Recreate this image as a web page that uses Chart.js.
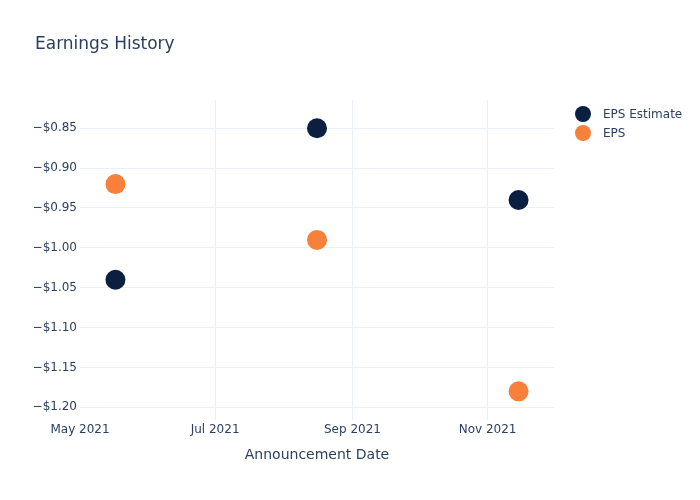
<!DOCTYPE html>
<html>
<head>
<meta charset="utf-8">
<script src="https://cdn.jsdelivr.net/npm/chart.js@4"></script>
<style>
  html, body { margin: 0; padding: 0; background: #fff; }
  #wrap { position: relative; width: 700px; height: 500px; }
</style>
</head>
<body>
<div id="wrap"><canvas id="earningsChart" width="700" height="500"></canvas></div>
<script>
// Data
const announceDates = ['2021-05-17', '2021-08-16', '2021-11-15'];
const epsEstimate = [-1.04, -0.85, -0.94];
const epsActual = [-0.92, -0.99, -1.18];
const xTickDates = ['2021-05-01', '2021-07-01', '2021-09-01', '2021-11-01'];
const yTicks = [-0.85, -0.90, -0.95, -1.00, -1.05, -1.10, -1.15, -1.20];

const monthNames = ['Jan', 'Feb', 'Mar', 'Apr', 'May', 'Jun', 'Jul', 'Aug', 'Sep', 'Oct', 'Nov', 'Dec'];
const toTime = s => {
  const p = s.split('-').map(Number);
  return Date.UTC(p[0], p[1] - 1, p[2]);
};
const fmtMonth = t => {
  const d = new Date(t);
  return monthNames[d.getUTCMonth()] + ' ' + d.getUTCFullYear();
};
const fmtMoney = v => (v < 0 ? '\u2212' : '') + '$' + Math.abs(v).toFixed(2);

const fontFamily = '"DejaVu Sans", sans-serif';
const textColor = '#2a3f5f';
const gridColor = '#ebf0f8';
const navy = '#0b1f40';
const orange = '#f7803a';

const series = [
  { label: 'EPS Estimate', values: epsEstimate, color: navy },
  { label: 'EPS', values: epsActual, color: orange },
];

// title + legend drawn on the canvas, plotly-like placement
const decorPlugin = {
  id: 'decor',
  afterDraw(chart) {
    const c = chart.ctx;
    c.save();
    c.fillStyle = textColor;
    c.font = '17px ' + fontFamily;
    c.textBaseline = 'middle';
    c.textAlign = 'left';
    c.fillText('Earnings History', 35, 45);

    c.font = '12px ' + fontFamily;
    series.forEach((s, i) => {
      const y = 114 + i * 19;
      c.beginPath();
      c.arc(583, y, 8, 0, Math.PI * 2);
      c.fillStyle = s.color;
      c.fill();
      c.fillStyle = textColor;
      c.fillText(s.label, 603, y + 1);
    });
    c.restore();
  }
};

const ctx = document.getElementById('earningsChart').getContext('2d');

new Chart(ctx, {
  type: 'scatter',
  data: {
    datasets: series.map(s => ({
      label: s.label,
      data: announceDates.map((d, i) => ({ x: toTime(d), y: s.values[i] })),
      backgroundColor: s.color,
      borderColor: s.color,
      borderWidth: 0,
      pointRadius: 10,
      pointHoverRadius: 10,
    })),
  },
  options: {
    responsive: false,
    animation: false,
    layout: { padding: { left: 0, right: 146, top: 100, bottom: 0 } },
    plugins: {
      legend: { display: false },
      tooltip: { enabled: false },
    },
    scales: {
      x: {
        type: 'linear',
        min: toTime('2021-05-01'),
        max: toTime('2021-12-01'),
        afterFit: scale => { scale.height = 80; },
        afterBuildTicks: scale => {
          scale.ticks = xTickDates.map(d => ({ value: toTime(d) }));
        },
        grid: {
          color: c => (c.index === 0 ? 'rgba(0,0,0,0)' : gridColor),
          drawTicks: false,
        },
        border: { display: false },
        ticks: {
          padding: 3,
          color: textColor,
          font: { size: 12, family: fontFamily },
          maxRotation: 0,
          callback: v => fmtMonth(v),
        },
        title: {
          display: true,
          text: 'Announcement Date',
          color: textColor,
          font: { size: 14, family: fontFamily },
          padding: { top: 0, bottom: 36 },
        },
      },
      y: {
        min: -1.216,
        max: -0.8145,
        afterFit: scale => { scale.width = 80; },
        afterBuildTicks: scale => {
          scale.ticks = yTicks.map(v => ({ value: v }));
        },
        grid: { color: gridColor, drawTicks: false },
        border: { display: false },
        ticks: {
          padding: 3,
          color: textColor,
          font: { size: 12, family: fontFamily },
          callback: v => fmtMoney(v),
        },
      },
    },
  },
  plugins: [decorPlugin],
});
</script>
</body>
</html>
